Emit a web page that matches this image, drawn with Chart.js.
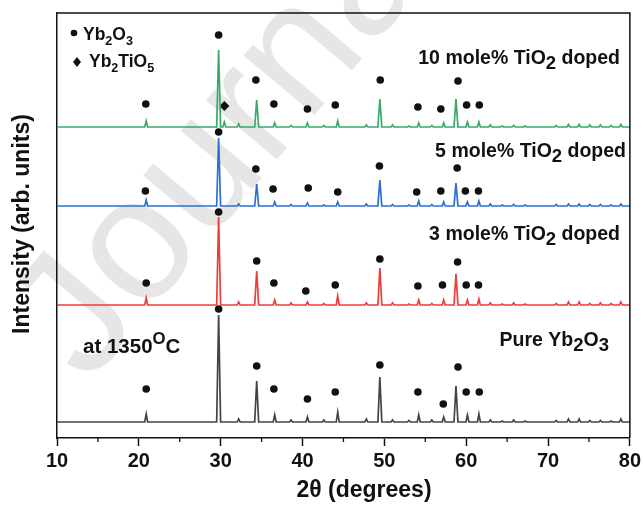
<!DOCTYPE html>
<html>
<head>
<meta charset="utf-8">
<script src="https://cdn.jsdelivr.net/npm/chart.js@4.4.0/dist/chart.umd.min.js"></script>
<style>
    html, body { margin: 0; padding: 0; background: #fff; }
</style>
</head>
<body>
<canvas id="xrdChart" width="644" height="505"></canvas>
<script>
// peak positions (2theta) shared by all four patterns
var peakPos = [20.9, 29.75, 32.2, 34.4, 36.6, 38.6, 40.6, 42.6, 44.3, 47.8, 49.45, 51.0, 53.0, 54.2, 55.8, 57.25, 58.75, 60.15, 61.55, 62.95, 64.4, 65.8, 67.2, 71.0, 72.5, 73.8, 75.1, 76.4, 77.7, 78.9]

// peak heights above each baseline (arb. units)
var pureHeights = [8, 107, 3, 41, 7, 2, 5, 2, 10, 3, 45, 2, 1.5, 7, 2, 5, 36, 7, 8, 2, 1, 2, 1, 1.5, 3, 3, 1.5, 1.5, 1, 3]
var ti3Heights = [7, 88, 3, 34, 5, 2, 3, 1.5, 9, 2, 37, 2, 1, 5, 1.5, 5, 31, 5, 6, 2, 1, 2, 1, 1.5, 3, 3, 1.5, 2, 1.5, 3]
var ti5Heights = [6, 68, 2, 22, 4, 1.5, 3, 1, 4, 2, 26, 1.5, 1, 5, 1.5, 4, 23, 4, 5, 2, 1, 1.5, 1, 1.5, 2, 2, 1.5, 1.5, 1, 2]
var ti10Heights = [6, 77, 3, 27, 4, 1.5, 4, 1.5, 6, 2, 28, 2, 1, 4, 1.5, 4, 28, 5, 5, 2, 1, 1.5, 1, 1.5, 2.5, 2.5, 2, 2, 1.5, 2.5]

// extra Yb2TiO5 reflection in the 10 mole% pattern
var tiPeakPos = [30.45]
var tiPeakHeights = [5]

// vertical offsets of the stacked patterns
var baselines = [16, 133, 232, 311]

// Yb2O3 markers
var pureDotX = [20.9, 29.75, 34.4, 36.5, 40.6, 44.0, 49.45, 54.1, 57.2, 59.0, 60.0, 61.6]
var pureDotY = [49, 129, 72, 49, 39, 46, 73, 46, 34, 71, 46, 46]
var ti3DotX = [20.9, 29.75, 34.4, 36.5, 40.4, 44.0, 49.45, 54.1, 57.1, 58.95, 60.0, 61.5]
var ti3DotY = [155, 226, 177, 155, 147, 153, 179, 152, 153, 176, 153, 153]
var ti5DotX = [20.8, 29.75, 34.3, 36.4, 40.7, 44.3, 49.4, 53.95, 56.9, 58.9, 59.9, 61.5]
var ti5DotY = [247, 306, 269, 249, 250, 246, 272, 246, 247, 270, 247, 247]
var ti10DotX = [20.85, 29.75, 34.3, 36.5, 40.6, 44.0, 49.5, 54.1, 56.9, 59.0, 60.05, 61.6]
var ti10DotY = [334, 403, 358, 334, 329, 333, 358, 331, 329, 357, 333, 333]

// Yb2TiO5 marker
var diamondX = [30.45]
var diamondY = [332]

var xTicks = [10, 20, 30, 40, 50, 60, 70, 80]
var minorTicks = [15, 25, 35, 45, 55, 65, 75]

var colors = ['#444444', '#ee3b3b', '#2b6fd6', '#3aa86a']
var FONT = "'Liberation Sans', Arial, sans-serif"

function buildTrace(base, heights, extraPos, extraHeights) {
    var peaks = []
    for (var i = 0; i < peakPos.length; i++) peaks.push({ x: peakPos[i], h: heights[i] })
    for (var j = 0; j < extraPos.length; j++) peaks.push({ x: extraPos[j], h: extraHeights[j] })
    peaks.sort(function (a, b) { return a.x - b.x })
    var pts = [{ x: 10, y: base }]
    peaks.forEach(function (pk) {
        var hw = pk.h > 20 ? 0.24 : 0.18
        pts.push({ x: pk.x - hw, y: base })
        pts.push({ x: pk.x, y: base + pk.h })
        pts.push({ x: pk.x + hw, y: base })
    })
    pts.push({ x: 80, y: base })
    return pts
}

function zipPoints(xs, ys) {
    return xs.map(function (x, i) { return { x: x, y: ys[i] } })
}

function lineSet(data, color) {
    return { type: 'line', data: data, borderColor: color, borderWidth: 1.7, pointRadius: 0, tension: 0, fill: false }
}

function dotSet(data, style, r) {
    return { type: 'scatter', data: data, pointStyle: style, pointRadius: r, pointBackgroundColor: '#111', pointBorderWidth: 0, pointHoverRadius: r }
}

// text with sub / superscripts: parts = [[text, 'n'|'sub'|'sup'], ...]
function drawRich(ctx, parts, x, y, align, size, subScale) {
    ctx.save()
    ctx.textBaseline = 'alphabetic'
    ctx.textAlign = 'left'
    ctx.fillStyle = '#111'
    var widths = parts.map(function (p) {
        var s = p[1] === 'n' ? size : size * subScale
        ctx.font = 'bold ' + s + 'px ' + FONT
        return ctx.measureText(p[0]).width
    })
    var total = widths.reduce(function (a, b) { return a + b }, 0)
    var cx = align === 'right' ? x - total : x
    parts.forEach(function (p, i) {
        var s = p[1] === 'n' ? size : size * subScale
        var dy = p[1] === 'sub' ? size * 0.28 : (p[1] === 'sup' ? -size * 0.42 : 0)
        ctx.font = 'bold ' + s + 'px ' + FONT
        ctx.fillText(p[0], cx, y + dy)
        cx += widths[i]
    })
    ctx.restore()
}

var decorPlugin = {
    id: 'decor',
    beforeDraw: function (chart) {
        var ctx = chart.ctx
        ctx.save()
        ctx.fillStyle = '#fff'
        ctx.fillRect(0, 0, chart.width, chart.height)
        // faint journal watermark
        ctx.translate(88, 385)
        ctx.rotate(-50 * Math.PI / 180)
        ctx.font = '175px ' + FONT
        ctx.fillStyle = '#e6e6e6'
        ctx.fillText('Journal Pre-proof', 0, 0)
        ctx.restore()
    },
    afterDraw: function (chart) {
        var ctx = chart.ctx
        var a = chart.chartArea
        var xs = chart.scales.x
        ctx.save()
        ctx.strokeStyle = '#111'
        ctx.lineWidth = 1.5
        ctx.beginPath()
        ctx.moveTo(a.left, a.top)
        ctx.lineTo(a.right, a.top)
        ctx.lineTo(a.right, a.bottom)
        ctx.stroke()
        ctx.lineWidth = 1.3
        minorTicks.forEach(function (v) {
            var px = xs.getPixelForValue(v)
            ctx.beginPath()
            ctx.moveTo(px, a.bottom)
            ctx.lineTo(px, a.bottom + 4)
            ctx.stroke()
        })

        // axis titles
        ctx.fillStyle = '#111'
        ctx.textAlign = 'center'
        ctx.textBaseline = 'middle'
        ctx.font = 'bold 23px ' + FONT
        ctx.fillText('2\u03b8 (degrees)', 364, 491)
        ctx.save()
        ctx.translate(23, 224)
        ctx.rotate(-Math.PI / 2)
        ctx.fillText('Intensity (arb. units)', 0, 0)
        ctx.restore()

        // legend
        ctx.beginPath()
        ctx.arc(74, 33, 3.3, 0, Math.PI * 2)
        ctx.fill()
        ctx.beginPath()
        ctx.moveTo(77, 57); ctx.lineTo(81, 62); ctx.lineTo(77, 67); ctx.lineTo(73, 62)
        ctx.closePath()
        ctx.fill()
        drawRich(ctx, [['Yb', 'n'], ['2', 'sub'], ['O', 'n'], ['3', 'sub']], 83, 40, 'left', 17.5, 0.72)
        drawRich(ctx, [['Yb', 'n'], ['2', 'sub'], ['TiO', 'n'], ['5', 'sub']], 89, 67, 'left', 17.5, 0.72)

        // sample labels
        drawRich(ctx, [['10 mole% TiO', 'n'], ['2', 'sub'], [' doped', 'n']], 620, 64, 'right', 19.5, 0.95)
        drawRich(ctx, [['5 mole% TiO', 'n'], ['2', 'sub'], [' doped', 'n']], 626, 157, 'right', 19.5, 0.95)
        drawRich(ctx, [['3 mole% TiO', 'n'], ['2', 'sub'], [' doped', 'n']], 620, 240, 'right', 19.5, 0.95)
        drawRich(ctx, [['Pure Yb', 'n'], ['2', 'sub'], ['O', 'n'], ['3', 'sub']], 609, 346, 'right', 19.5, 0.95)
        drawRich(ctx, [['at 1350', 'n'], ['O', 'sup'], ['C', 'n']], 83, 353, 'left', 20.5, 0.82)
        ctx.restore()
    }
}

var datasets = [
    lineSet(buildTrace(baselines[0], pureHeights, [], []), colors[0]),
    lineSet(buildTrace(baselines[1], ti3Heights, [], []), colors[1]),
    lineSet(buildTrace(baselines[2], ti5Heights, [], []), colors[2]),
    lineSet(buildTrace(baselines[3], ti10Heights, tiPeakPos, tiPeakHeights), colors[3]),
    dotSet(zipPoints(pureDotX, pureDotY), 'circle', 3.8),
    dotSet(zipPoints(ti3DotX, ti3DotY), 'circle', 3.8),
    dotSet(zipPoints(ti5DotX, ti5DotY), 'circle', 3.8),
    dotSet(zipPoints(ti10DotX, ti10DotY), 'circle', 3.8),
    dotSet(zipPoints(diamondX, diamondY), 'rectRot', 5)
]

var xrdChart = new Chart(document.getElementById('xrdChart').getContext('2d'), {
    type: 'line',
    data: { datasets: datasets },
    plugins: [decorPlugin],
    options: {
        responsive: false,
        devicePixelRatio: 1,
        animation: false,
        events: [],
        layout: { padding: { left: 0, top: 13, right: 12, bottom: 0 } },
        plugins: { legend: { display: false }, tooltip: { enabled: false } },
        scales: {
            x: {
                type: 'linear',
                min: 10,
                max: 80,
                afterBuildTicks: function (scale) {
                    scale.ticks = xTicks.map(function (v) { return { value: v } })
                },
                afterFit: function (scale) { scale.height = 67 },
                ticks: {
                    color: '#111',
                    padding: 3,
                    maxRotation: 0,
                    font: { family: FONT, weight: 'bold', size: 20 }
                },
                grid: { drawOnChartArea: false, tickLength: 8, tickWidth: 1.5, tickColor: '#111' },
                border: { display: true, color: '#111', width: 1.5 }
            },
            y: {
                type: 'linear',
                min: 0,
                max: 425,
                afterFit: function (scale) { scale.width = 57 },
                ticks: { display: false },
                grid: { display: false, drawTicks: false },
                border: { display: true, color: '#111', width: 1.5 }
            }
        }
    }
})
</script>
</body>
</html>
